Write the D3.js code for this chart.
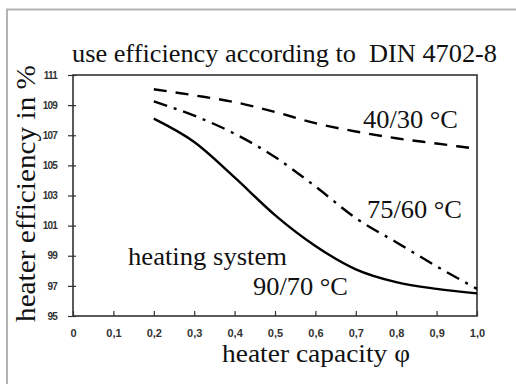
<!DOCTYPE html>
<html><head><meta charset="utf-8">
<script src="https://cdn.jsdelivr.net/npm/d3@7"></script>
<style>body{margin:0;background:#fff}svg{display:block}</style>
</head><body>
<svg id="c" width="516" height="384"></svg>
<script>
const capacity = [0.2,0.3,0.4,0.5,0.6,0.7,0.8,0.9,1.0];
const eff4030 = [110.05,109.65,109.2,108.55,107.8,107.25,106.8,106.45,106.1];
const eff7560 = [109.25,108.3,107.1,105.55,103.6,101.5,99.9,98.3,96.8];
const eff9070 = [108.1,106.55,104.2,101.7,99.65,98.1,97.25,96.8,96.5];
const xTicks = [0,0.1,0.2,0.3,0.4,0.5,0.6,0.7,0.8,0.9,1.0];
const xTickLabels = ["0","0,1","0,2","0,3","0,4","0,5","0,6","0,7","0,8","0,9","1,0"];
const yTicks = [95,97,99,101,103,105,107,109,111];
const seriesNames = ["40/30 °C","75/60 °C","90/70 °C"];

const SERIF = '"Liberation Serif"';
const SANS = '"Liberation Sans"';

const svg = d3.select("#c");
const L=73,R=477,T=75,B=316;
const x = d3.scaleLinear().domain([0,1]).range([L,R]);
const y = d3.scaleLinear().domain([95,111]).range([B,T]);

svg.append("path").attr("d","M7,384 L7,9.5 L516,9.5").attr("fill","none")
  .attr("stroke","#b4b4b4").attr("stroke-width",2);

svg.append("rect").attr("x",L).attr("y",T).attr("width",R-L).attr("height",B-T)
  .attr("fill","none").attr("stroke","#333").attr("stroke-width",1.6);

const xAxis = svg.append("g").attr("transform",`translate(0,${B})`)
  .call(d3.axisBottom(x).tickValues(xTicks).tickSize(-5).tickFormat((d,i)=>xTickLabels[i]));
xAxis.select(".domain").remove();
xAxis.selectAll(".tick line").attr("stroke","#333").attr("stroke-width",1.2);
xAxis.selectAll("text").style("font-family",SANS).style("font-size","11px").style("font-weight","bold").attr("fill","#333")
  .attr("y",13).attr("dy","0.71em");

const yAxis = svg.append("g").attr("transform",`translate(${L},0)`)
  .call(d3.axisLeft(y).tickValues(yTicks).tickSize(5).tickPadding(11));
yAxis.select(".domain").remove();
yAxis.selectAll(".tick line").attr("stroke","#333").attr("stroke-width",1.2).attr("x2",3).attr("x1",-5);
yAxis.selectAll("text").style("font-family",SANS).style("font-size","10px").style("font-weight","bold").attr("fill","#333")
  .style("letter-spacing","-0.8px");

const line = d3.line().x((d,i)=>x(capacity[i])).y(d=>y(d)).curve(d3.curveMonotoneX);
const styles = [
  {data:eff4030, dash:"13,9"},
  {data:eff7560, dash:"14,7,3,7"},
  {data:eff9070, dash:null}
];
styles.forEach(s=>{
  svg.append("path").attr("d",line(s.data)).attr("fill","none")
    .attr("stroke","#000").attr("stroke-width",2.4)
    .attr("stroke-dasharray",s.dash);
});

function txt(t,xx,yy,size,len){
  const e = svg.append("text").attr("x",xx).attr("y",yy)
    .style("font-family",SERIF).style("font-size",size+"px").attr("fill","#111").text(t);
  if(len) e.attr("textLength",len).attr("lengthAdjust","spacingAndGlyphs");
  return e;
}
txt("use efficiency according to  DIN 4702-8",72,62,26,425).style("white-space","pre");
txt(seriesNames[0],363,128,26,95);
txt(seriesNames[1],367,218,26,95);
txt("heating system",128,265,26,159);
txt(seriesNames[2],253,295,26,95);
txt("heater capacity φ",222,362,26,188);
svg.append("text").attr("transform","translate(35,193.5) rotate(-90)")
  .attr("text-anchor","middle").style("font-family",SERIF).style("font-size","27px")
  .attr("fill","#111").attr("textLength",257).attr("lengthAdjust","spacingAndGlyphs")
  .text("heater efficiency in %");
</script>
</body></html>
